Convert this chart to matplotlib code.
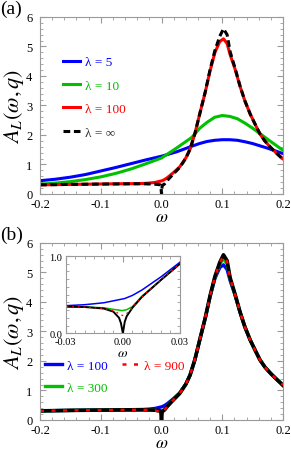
import matplotlib.pyplot as plt
from matplotlib.ticker import MultipleLocator

plt.rcParams['font.family'] = ['Liberation Serif', 'DejaVu Serif']
plt.rcParams['mathtext.fontset'] = 'stix'
plt.rcParams['axes.unicode_minus'] = False

# omega grid shared by the narrow curves
w = [-0.2, -0.15, -0.1, -0.05, -0.03, -0.02, -0.01, -0.005, -0.002, -0.001, 0.0,
     0.001, 0.002, 0.005, 0.01, 0.02, 0.03, 0.04, 0.047, 0.055, 0.063, 0.072,
     0.08, 0.088, 0.096, 0.102, 0.108, 0.113, 0.121, 0.129, 0.137, 0.146,
     0.154, 0.162, 0.17, 0.18, 0.19, 0.2]

lam100 = [0.31, 0.325, 0.34, 0.35, 0.357, 0.37, 0.395, 0.42, 0.435, 0.44, 0.445,
          0.45, 0.46, 0.49, 0.56, 0.73, 0.92, 1.22, 1.52, 2.05, 2.72, 3.45,
          4.18, 4.80, 5.17, 5.26, 5.10, 4.72, 4.24, 3.67, 3.17, 2.71,
          2.37, 2.04, 1.80, 1.57, 1.37, 1.19]
lam300 = [0.31, 0.325, 0.335, 0.345, 0.345, 0.34, 0.33, 0.31, 0.30, 0.295, 0.295,
          0.30, 0.305, 0.345, 0.48, 0.69, 0.90, 1.21, 1.52, 2.05, 2.72, 3.46,
          4.20, 4.84, 5.30, 5.47, 5.30, 4.78, 4.26, 3.68, 3.17, 2.71,
          2.37, 2.04, 1.80, 1.57, 1.37, 1.19]
lam900 = [0.31, 0.325, 0.335, 0.345, 0.345, 0.34, 0.32, 0.29, 0.255, 0.24, 0.23,
          0.24, 0.255, 0.33, 0.47, 0.69, 0.90, 1.21, 1.52, 2.05, 2.72, 3.46,
          4.21, 4.86, 5.33, 5.56, 5.36, 4.80, 4.26, 3.68, 3.17, 2.71,
          2.37, 2.04, 1.80, 1.57, 1.37, 1.19]
lam_inf = [0.31, 0.325, 0.335, 0.345, 0.345, 0.34, 0.33, 0.32, 0.31, 0.25, 0.0,
           0.26, 0.30, 0.34, 0.47, 0.69, 0.90, 1.21, 1.52, 2.05, 2.72, 3.46,
           4.22, 4.87, 5.35, 5.60, 5.40, 4.82, 4.27, 3.68, 3.17, 2.71,
           2.37, 2.04, 1.80, 1.57, 1.37, 1.17]

# the fine structure of lambda = inf seen in the inset
w_fine = [-0.03, -0.02, -0.01, -0.005, -0.002, -0.001, 0.0, 0.001, 0.002,
          0.005, 0.01, 0.02, 0.03]
lam_inf_fine = [0.345, 0.34, 0.32, 0.28, 0.20, 0.13, 0.0, 0.15, 0.22,
                0.33, 0.47, 0.69, 0.90]

# broad curves of panel (a)
w_broad = [-0.2, -0.175, -0.15, -0.125, -0.1, -0.075, -0.05, -0.025, 0.0, 0.025,
           0.05, 0.0625, 0.075, 0.0875, 0.1, 0.1125, 0.125, 0.1375, 0.15, 0.175, 0.2]
lam5 = [0.45, 0.50, 0.57, 0.66, 0.78, 0.90, 1.03, 1.16, 1.28, 1.43,
        1.62, 1.71, 1.78, 1.82, 1.84, 1.84, 1.82, 1.77, 1.71, 1.55, 1.37]
lam10 = [0.33, 0.37, 0.42, 0.49, 0.58, 0.70, 0.85, 1.03, 1.22, 1.56,
         1.92, 2.22, 2.43, 2.60, 2.66, 2.63, 2.55, 2.40, 2.23, 1.85, 1.48]

x_ticks = [-0.2, -0.1, 0.0, 0.1, 0.2]
x_ticklabels = ['-0.2', '-0.1', '0.0', '0.1', '0.2']
inset_xticks = [-0.03, 0.0, 0.03]
inset_xticklabels = ['-0.03', '0.00', '0.03']

BLUE = '#0000ff'
GREEN = '#00c000'
RED = '#ff0000'
FRAME = '#9a9a9a'


def style_frame(ax, size=9.5, xpad=4, ypad=3):
    for s in ax.spines.values():
        s.set_color(FRAME)
        s.set_linewidth(0.8)
    ax.tick_params(which='both', direction='in', top=True, right=True,
                   color=FRAME, labelsize=size)
    ax.tick_params(axis='x', pad=xpad)
    ax.tick_params(axis='y', pad=ypad)
    ax.tick_params(which='major', length=4)
    ax.tick_params(which='minor', length=2)


fig = plt.figure(figsize=(2.91, 4.52), dpi=100)
ax_a = fig.add_axes([0.1375, 0.5686, 0.835, 0.3916])
ax_b = fig.add_axes([0.1375, 0.0686, 0.835, 0.3916])

# panel (a)
ax_a.plot(w_broad, lam5, color=BLUE, lw=2.2, label='λ = 5')
ax_a.plot(w_broad, lam10, color=GREEN, lw=2.2, label='λ = 10')
ax_a.plot(w, lam100, color=RED, lw=2.2, label='λ = 100')
ax_a.plot(w, lam_inf, color='black', lw=2.2, dashes=(2.2, 1.2), label='λ = ∞')
leg = ax_a.legend(loc='upper left', bbox_to_anchor=(0.095, 0.78), frameon=False,
                  fontsize=9.5, handlelength=1.3, handletextpad=0.35,
                  labelspacing=0.85, borderpad=0, borderaxespad=0)
for txt, c in zip(leg.get_texts(), [BLUE, GREEN, RED, '#333333']):
    txt.set_color(c)

# panel (b)
ax_b.plot(w, lam100, color=BLUE, lw=2.4, label='λ = 100')
ax_b.plot(w, lam300, color=GREEN, lw=2.4, label='λ = 300')
ax_b.plot(w, lam_inf, color='black', lw=2.6)
ax_b.plot(w, lam900, color=RED, lw=1.8, dashes=(1.6, 3.0), label='λ = 900')
leg = ax_b.legend(loc='upper left', bbox_to_anchor=(0.02, 0.34), frameon=False,
                  ncol=2, fontsize=9.5, handlelength=1.3, handletextpad=0.35,
                  labelspacing=0.7, columnspacing=1.1, borderpad=0, borderaxespad=0)
for txt, c in zip(leg.get_texts(), [BLUE, GREEN, RED]):
    txt.set_color(c)

for ax in (ax_a, ax_b):
    ax.set_xlim(-0.2, 0.2)
    ax.set_ylim(0, 6)
    ax.set_xticks(x_ticks)
    ax.set_xticklabels(x_ticklabels)
    ax.xaxis.set_minor_locator(MultipleLocator(0.02))
    ax.yaxis.set_major_locator(MultipleLocator(1))
    ax.yaxis.set_minor_locator(MultipleLocator(0.2))
    style_frame(ax, size=9, xpad=3.2, ypad=5.5)
    ax.set_xlabel(r'$\omega$', fontsize=12.5, labelpad=-0.8)
    ax.set_ylabel(r'$A_L(\omega,q)$', fontsize=16, labelpad=0)

fig.text(0.0, 0.998, '(a)', fontsize=14, va='top', ha='left')
fig.text(0.0, 0.498, '(b)', fontsize=14, va='top', ha='left')

# inset zoom around omega = 0
ax_in = fig.add_axes([0.2258, 0.2604, 0.3928, 0.171])
ax_in.plot(w, lam100, color=BLUE, lw=1.1)
ax_in.plot(w, lam300, color=GREEN, lw=1.1)
ax_in.plot(w_fine, lam_inf_fine, color='black', lw=1.4)
ax_in.plot(w, lam900, color=RED, lw=0.9, dashes=(1.5, 3.0))
ax_in.set_xlim(-0.03, 0.03)
ax_in.set_ylim(0, 1)
ax_in.set_xticks(inset_xticks)
ax_in.set_xticklabels(inset_xticklabels)
ax_in.set_yticks([0, 1])
ax_in.set_yticklabels(['0.0', '1.0'])
ax_in.xaxis.set_minor_locator(MultipleLocator(0.005))
ax_in.yaxis.set_minor_locator(MultipleLocator(0.1))
style_frame(ax_in, size=7.5, xpad=3, ypad=2.5)
ax_in.set_xlabel(r'$\omega$', fontsize=10, labelpad=0)

fig.savefig('out.png', dpi=100)
